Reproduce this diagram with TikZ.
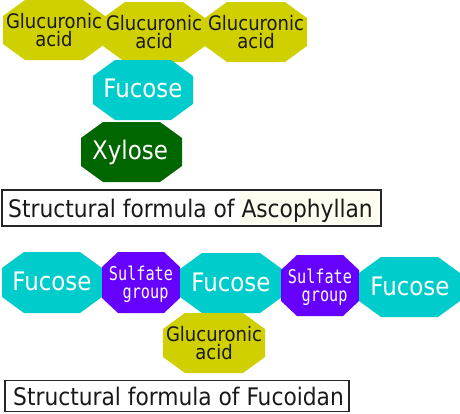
\documentclass[tikz,border=0pt]{standalone}
\usepackage{fontspec}
\setmainfont{DejaVu Sans Condensed}
\newfontfamily\monof{DejaVu Sans Mono}[FakeStretch=0.8]
\definecolor{gacol}{RGB}{208,208,0}
\definecolor{fucol}{RGB}{0,204,204}
\definecolor{xycol}{RGB}{0,102,0}
\definecolor{sucol}{RGB}{102,0,255}
\definecolor{cream}{RGB}{255,253,240}
\newcommand\octo[8]{% name cx cy w h cutx cuty color
  \fill[#8] ({#2-#4/2+#6},{#3-#5/2}) -- ({#2+#4/2-#6},{#3-#5/2}) -- ({#2+#4/2},{#3-#5/2+#7}) -- ({#2+#4/2},{#3+#5/2-#7}) -- ({#2+#4/2-#6},{#3+#5/2}) -- ({#2-#4/2+#6},{#3+#5/2}) -- ({#2-#4/2},{#3+#5/2-#7}) -- ({#2-#4/2},{#3-#5/2+#7}) -- cycle;
  \coordinate (#1) at (#2,#3);
}
\begin{document}
\begin{tikzpicture}[x=1pt,y=-1pt,
  gatext/.style={text=black!90, align=center, inner sep=0pt, font=\fontsize{20}{18}\selectfont},
  futext/.style={text=white, inner sep=0pt, font=\fontsize{25.5}{30}\selectfont},
  sutext/.style={text=white, align=center, inner sep=0pt, font=\monof\fontsize{19}{18}\selectfont},
  labelbox/.style={draw=black!85, line width=1.2pt, inner sep=0pt},
  labeltext/.style={inner sep=0pt, anchor=base west, text=black!90, font=\fontsize{24.2}{28}\selectfont}]
\useasboundingbox (0,0) rectangle (460,413);
% Ascophyllan
\octo{ga1}{54}{30}{102}{60}{22}{16}{gacol}
\octo{ga2}{154}{32}{102}{60}{22}{16}{gacol}
\octo{ga3}{256}{32}{102}{60}{22}{16}{gacol}
\octo{fa}{143}{90}{100}{60}{22}{16}{fucol}
\octo{xa}{131.5}{152}{101}{60}{22}{16}{xycol}
\node[gatext] (tga1) at (ga1) {Glucuronic\\acid};
\node[gatext] (tga2) at (ga2) {Glucuronic\\acid};
\node[gatext] (tga3) at (ga3) {Glucuronic\\acid};
\node[futext] (tfa) at (143,88) {Fucose};
\node[futext] (txa) at (130,152) {Xylose};
\node[labelbox, minimum width=379, minimum height=36] (boxA) at (191.5,208) {};
\fill[cream] (240,192) rectangle (378,224);
\node[labeltext] (labA) at (8,217) {Structural formula of Ascophyllan};
% Fucoidan
\octo{f1}{52}{282.5}{100}{61}{22}{16}{fucol}
\octo{s1}{141}{282.5}{78}{61}{16}{15}{sucol}
\octo{f2}{231}{283}{102}{60}{22}{16}{fucol}
\octo{s2}{320}{285.5}{78}{61}{16}{15}{sucol}
\octo{f3}{409.5}{287}{101}{60}{22}{16}{fucol}
\octo{gf}{214}{343}{102}{60}{22}{16}{gacol}
\node[futext] (tf1) at (52,281) {Fucose};
\node[futext] (tf2) at (231,282) {Fucose};
\node[futext] (tf3) at (410,286) {Fucose};
\node[sutext] (ts1) at (141,284) {Sulfate\\\ group};
\node[sutext] (ts2) at (320,287) {Sulfate\\\ group};
\node[gatext] (tgf) at (gf) {Glucuronic\\acid};
\node[labelbox, minimum width=344, minimum height=31] (boxF) at (177,396) {};
\node[labeltext] (labF) at (13,405) {Structural formula of Fucoidan};
\end{tikzpicture}
\end{document}
